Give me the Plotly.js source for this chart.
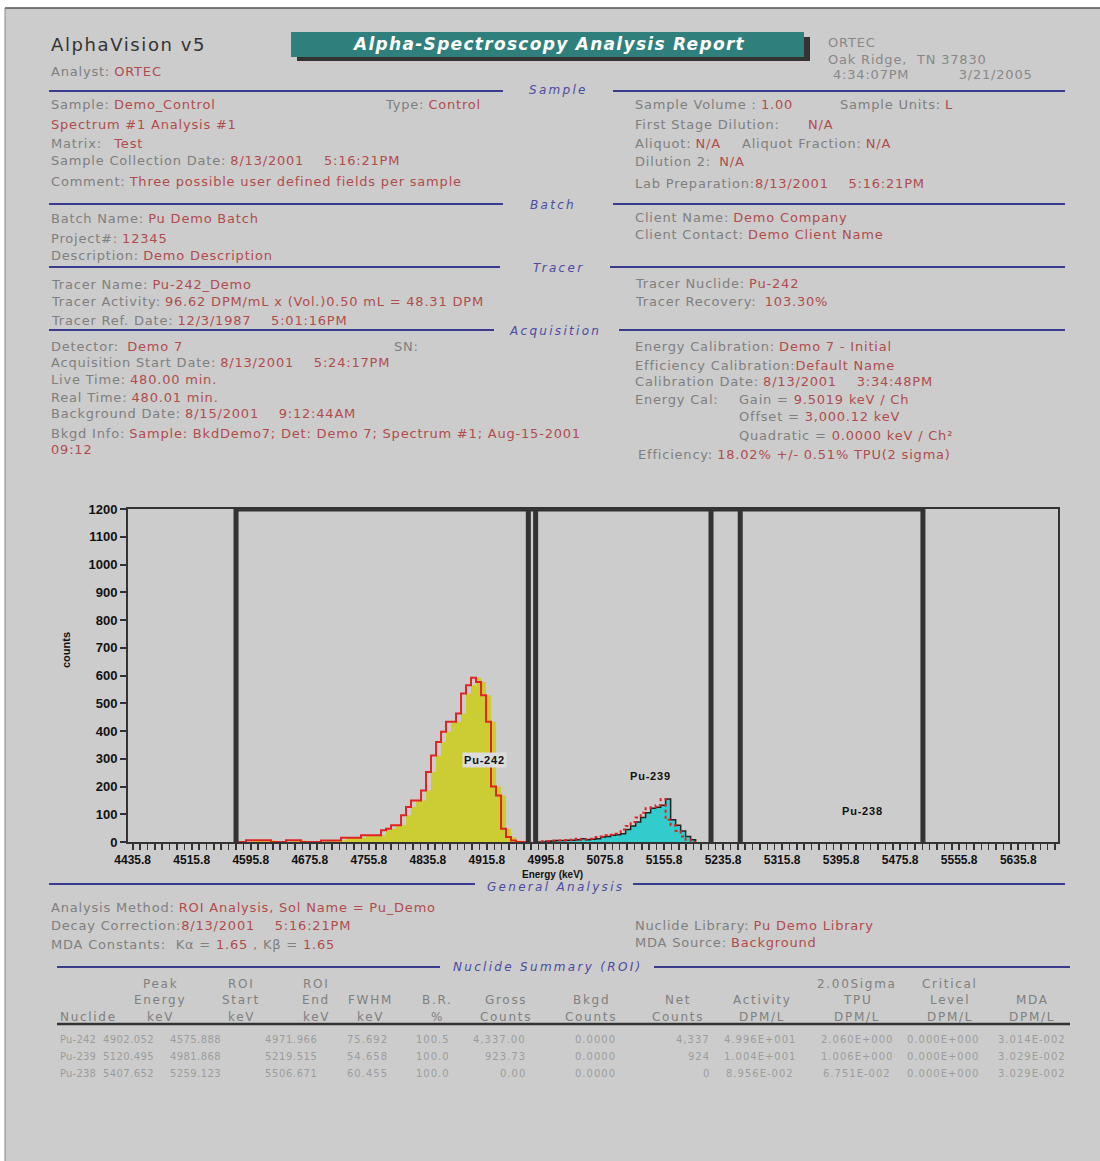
<!DOCTYPE html>
<html><head><meta charset="utf-8">
<script src="https://cdn.plot.ly/plotly-3.0.1.min.js"></script>
<style>html,body{margin:0;padding:0;background:#fff;}#chart{width:1100px;height:1161px;}</style>
</head><body><div id="chart"></div>
<script>
// ---------- DATA ----------
const pu242Energy = [4575.9,4582.7,4589.4,4596.2,4603.0,4609.8,4616.5,4623.3,4630.1,4636.9,4643.6,4650.4,4657.2,4664.0,4670.7,4677.5,4684.3,4691.1,4697.8,4704.6,4711.4,4718.2,4724.9,4731.7,4738.5,4745.3,4752.0,4758.8,4765.6,4772.4,4779.1,4785.9,4792.7,4799.5,4806.2,4813.0,4819.8,4826.6,4833.3,4840.1,4846.9,4853.7,4860.4,4867.2,4874.0,4880.8,4887.5,4894.3,4901.1,4907.9,4914.6,4921.4,4928.2,4935.0,4941.7,4948.5,4955.3,4962.1,4968.8];
const pu242Counts = [0,0,0,6,6,6,6,6,0,0,0,6,6,6,0,0,0,0,5,5,5,5,15,15,15,15,24,24,24,24,42,48,60,60,96,126,150,150,186,252,312,360,397,433,433,463,535,565,592,577,529,433,200,168,48,18,5,0,0];
const pu239Energy = [4981.9,4988.6,4995.4,5002.2,5009.0,5015.8,5022.5,5029.3,5036.1,5042.9,5049.6,5056.4,5063.2,5070.0,5076.7,5083.5,5090.3,5097.1,5103.8,5110.6,5117.4,5124.2,5130.9,5137.7,5144.5,5151.3,5158.0,5164.8,5171.6,5178.4,5185.1,5191.9,5198.7];
const pu239Counts = [0,0,3,4,5,5,6,6,8,12,8,10,12,18,20,24,26,30,45,58,72,88,105,122,125,132,155,80,60,40,20,8,0];
const roiNames = ['Pu-242','Pu-239','Pu-238'];
const roiStart = [4575.888,4981.868,5259.123];
const roiEnd = [4971.966,5219.515,5506.671];
const peakLabelEnergy = [4913,5138,5425];
const peakLabelCounts = [295,238,112];
const xTickVals = [4435.8,4515.8,4595.8,4675.8,4755.8,4835.8,4915.8,4995.8,5075.8,5155.8,5235.8,5315.8,5395.8,5475.8,5555.8,5635.8];
const yTickVals = [0,100,200,300,400,500,600,700,800,900,1000,1100,1200];

// nuclide summary table
const tblNuclide = ['Pu-242','Pu-239','Pu-238'];
const tblPeak = ['4902.052','5120.495','5407.652'];
const tblRoiStart = ['4575.888','4981.868','5259.123'];
const tblRoiEnd = ['4971.966','5219.515','5506.671'];
const tblFwhm = ['75.692','54.658','60.455'];
const tblBR = ['100.5','100.0','100.0'];
const tblGross = ['4,337.00','923.73','0.00'];
const tblBkgd = ['0.0000','0.0000','0.0000'];
const tblNet = ['4,337','924','0'];
const tblActivity = ['4.996E+001','1.004E+001','8.956E-002'];
const tblTpu = ['2.060E+000','1.006E+000','6.751E-002'];
const tblCritical = ['0.000E+000','0.000E+000','0.000E+000'];
const tblMda = ['3.014E-002','3.029E-002','3.029E-002'];
const tblHeaders = [['','','Nuclide'],['Peak','Energy','keV'],['ROI','Start','keV'],['ROI','End','keV'],['','FWHM','keV'],['','B.R.','%'],['','Gross','Counts'],['','Bkgd','Counts'],['','Net','Counts'],['','Activity','DPM/L'],['2.00Sigma','TPU','DPM/L'],['Critical','Level','DPM/L'],['','MDA','DPM/L']];

// ---------- LAYOUT HELPERS ----------
const PL=128, PR=1058, PT=509, PB=842;
const px = x => (x-PL)/(PR-PL);
const py = y => (PB-y)/(PB-PT);
const F = 'DejaVu Sans';
const GREY='#7f7f7f', RED='#b04c4c', BLUE='#4b4b9f', LINE='#3b3b8e', DARK='#333333';
const sp = n => '\u00a0'.repeat(n);
const LS = 0.8;
const S = (t,c,ls) => `<span style="color:${c};letter-spacing:${ls}px">${t}</span>`;
const L = t => S(t,GREY,LS);
const V = t => S(t,RED,LS);
const ann = [];
function txt(x,y,text,o={}){
  ann.push({xref:'paper',yref:'paper',x:px(x),y:py(y),text:text,showarrow:false,
    xanchor:o.xa||'left',yanchor:'middle',textangle:o.angle||0,
    font:{family:o.family||F,size:o.size||13,color:o.color||GREY,weight:o.weight||'normal'}});
}
const shapes = [];
function rectPx(x0,y0,x1,y1,fill,layer){shapes.push({type:'rect',xref:'paper',yref:'paper',x0:px(x0),x1:px(x1),y0:py(y0),y1:py(y1),fillcolor:fill,line:{width:0},layer:layer||'below'});}
function linePx(x0,x1,y,color,w){shapes.push({type:'line',xref:'paper',yref:'paper',x0:px(x0),x1:px(x1),y0:py(y),y1:py(y),line:{color:color,width:w}});}

// page background
rectPx(5,8,1100,1161,'#cccccc','below');
linePx(5,1100,8,'#555',1.5);
shapes.push({type:'line',xref:'paper',yref:'paper',x0:px(5),x1:px(5),y0:py(8),y1:py(1161),line:{color:'#888',width:1}});

// header
txt(49,44,S('AlphaVision v5','#333',1.6),{size:18,color:'#333'});
rectPx(297,37,810,61,'#333333','above');
rectPx(291,32,804,57,'#2f7f7c','above');
txt(548,44,'<b><i>'+S('Alpha-Spectroscopy Analysis Report','#ffffff',1.3)+'</i></b>',{xa:'center',size:17,color:'#ffffff'});
txt(49,71,L('Analyst:')+' '+V('ORTEC'));
txt(826,42,S('ORTEC','#888',LS),{color:'#888'});
txt(826,59,S('Oak Ridge,  TN 37830','#888',LS),{color:'#888'});
txt(831,75,S('4:34:07PM'+sp(10)+'3/21/2005','#888',LS),{color:'#888'});

// section separators
const sections = [
  ['Sample',558,90,[49,503],[613,1065],91],
  ['Batch',553,205,[49,503],[613,1065],204],
  ['Tracer',558,268,[49,500],[610,1065],267],
  ['Acquisition',555,331,[49,494],[619,1065],330],
  ['General Analysis',555,887,[49,475],[633,1065],884],
  ['Nuclide Summary (ROI)',547,967,[57,440],[654,1070],967]
];
sections.forEach(s=>{
  linePx(s[3][0],s[3][1],s[5],LINE,2.2);
  linePx(s[4][0],s[4][1],s[5],LINE,2.2);
  txt(s[1],s[2],'<i>'+S(s[0],BLUE,2.3)+'</i>',{xa:'center',size:12,color:BLUE});
});

// sample
txt(49,105,L('Sample:')+' '+V('Demo_Control'));
txt(383,105,L('Type:')+' '+V('Control'));
txt(49,125,V('Spectrum #1 Analysis #1'));
txt(49,143,L('Matrix:')+sp(3)+V('Test'));
txt(49,160,L('Sample Collection Date:')+' '+V('8/13/2001'+sp(4)+'5:16:21PM'));
txt(49,181,L('Comment:')+' '+V('Three possible user defined fields per sample'));
txt(633,105,L('Sample Volume :')+' '+V('1.00'));
txt(838,105,L('Sample Units:')+' '+V('L'));
txt(633,125,L('First Stage Dilution:'));
txt(806,125,V('N/A'));
txt(633,143,L('Aliquot:')+' '+V('N/A'));
txt(740,143,L('Aliquot Fraction:')+' '+V('N/A'));
txt(633,162,L('Dilution 2:')+sp(2)+V('N/A'));
txt(633,184,L('Lab Preparation:')+V('8/13/2001'+sp(4)+'5:16:21PM'));
// batch
txt(49,218,L('Batch Name:')+' '+V('Pu Demo Batch'));
txt(49,238,L('Project#:')+' '+V('12345'));
txt(49,256,L('Description:')+' '+V('Demo Description'));
txt(633,217,L('Client Name:')+' '+V('Demo Company'));
txt(633,235,L('Client Contact:')+' '+V('Demo Client Name'));
// tracer
txt(49,284,L('Tracer Name:')+' '+V('Pu-242_Demo'));
txt(49,301,L('Tracer Activity:')+' '+V('96.62 DPM/mL x (Vol.)0.50 mL = 48.31 DPM'));
txt(49,320,L('Tracer Ref. Date:')+' '+V('12/3/1987'+sp(4)+'5:01:16PM'));
txt(633,283,L('Tracer Nuclide:')+' '+V('Pu-242'));
txt(633,301,L('Tracer Recovery:')+sp(2)+V('103.30%'));
// acquisition
txt(49,346,L('Detector:')+sp(2)+V('Demo 7'));
txt(392,346,L('SN:'));
txt(49,362,L('Acquisition Start Date:')+' '+V('8/13/2001'+sp(4)+'5:24:17PM'));
txt(49,379,L('Live Time:')+' '+V('480.00 min.'));
txt(49,397,L('Real Time:')+' '+V('480.01 min.'));
txt(49,413,L('Background Date:')+' '+V('8/15/2001'+sp(4)+'9:12:44AM'));
txt(49,433,L('Bkgd Info:')+' '+V('Sample: BkdDemo7; Det: Demo 7; Spectrum #1; Aug-15-2001'));
txt(49,449,V('09:12'));
txt(633,346,L('Energy Calibration:')+' '+V('Demo 7 - Initial'));
txt(633,365,L('Efficiency Calibration:')+V('Default Name'));
txt(633,381,L('Calibration Date:')+' '+V('8/13/2001'+sp(4)+'3:34:48PM'));
txt(633,399,L('Energy Cal:'));
txt(737,399,L('Gain = ')+V('9.5019 keV / Ch'));
txt(737,416,L('Offset = ')+V('3,000.12 keV'));
txt(737,435,L('Quadratic = ')+V('0.0000 keV / Ch²'));
txt(636,454,L('Efficiency:')+' '+V('18.02% +/- 0.51% TPU(2 sigma)'));
// general analysis
txt(49,907,L('Analysis Method:')+' '+V('ROI Analysis, Sol Name = Pu_Demo'));
txt(49,925,L('Decay Correction:')+V('8/13/2001'+sp(4)+'5:16:21PM'));
txt(49,944,L('MDA Constants:'+sp(2)+'Kα = ')+V('1.65')+L(' , Kβ = ')+V('1.65'));
txt(633,925,L('Nuclide Library:')+' '+V('Pu Demo Library'));
txt(633,942,L('MDA Source:')+' '+V('Background'));

// table header
const hdrX = [58,160,241,316,370,437,506,591,678,762,857,950,1032];
const hdrY = [984,1000,1017];
tblHeaders.forEach((h,i)=>{
  h.forEach((t,r)=>{ if(t) txt(hdrX[i],hdrY[r],S(t,'#808080',1.7),{xa:i===0?'left':'center',size:12,color:'#808080'}); });
});
linePx(57,1070,1024,DARK,2.5);
// table rows
const rowY = [1039,1056,1073];
const cols = [
  [tblNuclide,58,'left',0.2],[tblPeak,101,'left',0.4],[tblRoiStart,168,'left',0.4],[tblRoiEnd,263,'left',0.6],
  [tblFwhm,390,'right',1],[tblBR,452,'right',1],[tblGross,528,'right',1],[tblBkgd,595,'center',1],
  [tblNet,712,'right',1],[tblActivity,760,'center',1],[tblTpu,857,'center',1],[tblCritical,943,'center',1],[tblMda,1032,'center',1]
];
cols.forEach(c=>{ c[0].forEach((v,r)=>txt(c[1],rowY[r],S(v,'#9c9c9c',c[3]),{xa:c[2],size:10,color:'#9c9c9c'})); });

// axis titles (placed as annotations to match the report position)
txt(552,874,'<b>Energy (keV)</b>',{xa:'center',size:10,color:'#111',family:'Liberation Sans'});
txt(66,650,'<b>counts</b>',{xa:'center',size:11,color:'#111',family:'Liberation Sans',angle:-90});

// ROI markers on chart
roiStart.concat(roiEnd).forEach(e=>{
  shapes.push({type:'line',xref:'x',yref:'y',x0:e,x1:e,y0:0,y1:1200,line:{color:DARK,width:5},layer:'above'});
});
shapes.push({type:'line',xref:'x',yref:'y',x0:Math.min(...roiStart),x1:Math.max(...roiEnd),y0:1200,y1:1200,line:{color:DARK,width:5},layer:'above'});

// peak labels
roiNames.forEach((n,i)=>{
  ann.push({xref:'x',yref:'y',x:peakLabelEnergy[i],y:peakLabelCounts[i],text:'<b>'+S(n,'#111',0.8)+'</b>',showarrow:false,
    font:{family:'Liberation Sans',size:11,color:'#111'},bgcolor:i===0?'#dcdcdc':'rgba(0,0,0,0)',borderpad:1});
});

// ---------- TRACES ----------
const traces = [
  {x:pu242Energy,y:pu242Counts,type:'scatter',mode:'lines',line:{shape:'hv',width:0,color:'#cccc33'},fill:'tozeroy',fillcolor:'#cccc33',hoverinfo:'skip'},
  {x:pu242Energy,y:pu242Counts,type:'scatter',mode:'lines',line:{shape:'vh',width:2,color:'#e02424'},hoverinfo:'skip'},
  {x:pu239Energy,y:pu239Counts,type:'scatter',mode:'lines',line:{shape:'hv',width:1.5,color:'#222'},fill:'tozeroy',fillcolor:'#33cccc',hoverinfo:'skip'},
  {x:pu239Energy,y:pu239Counts,type:'scatter',mode:'lines',line:{shape:'vh',width:2,color:'#e02424',dash:'dot'},hoverinfo:'skip'}
];

const tickFont = {family:'Liberation Sans',size:12,color:'#111',weight:'bold'};
const layout = {
  width:1100,height:1161,
  margin:{l:PL,r:1100-PR,t:PT,b:1161-PB,pad:0},
  paper_bgcolor:'#ffffff',plot_bgcolor:'rgba(0,0,0,0)',
  showlegend:false,
  xaxis:{range:[4429.5,5689.7],tickvals:xTickVals,ticktext:xTickVals.map(v=>v.toFixed(1)),
    ticks:'outside',ticklen:6,tickwidth:2,tickcolor:DARK,showline:true,linecolor:DARK,linewidth:2,mirror:true,
    showgrid:false,zeroline:false,tickfont:tickFont,
    minor:{dtick:10,tick0:4435.8,ticks:'outside',ticklen:6,tickwidth:1.5,tickcolor:DARK,showgrid:false}},
  yaxis:{range:[0,1200],tickvals:yTickVals,ticks:'outside',ticklen:6,tickwidth:2,tickcolor:DARK,
    showline:true,linecolor:DARK,linewidth:2,mirror:true,showgrid:false,zeroline:false,
    tickfont:{family:'Liberation Sans',size:13,color:'#111',weight:'bold'}},
  shapes:shapes,annotations:ann
};
Plotly.newPlot('chart',traces,layout,{staticPlot:true,displayModeBar:false});
</script></body></html>
